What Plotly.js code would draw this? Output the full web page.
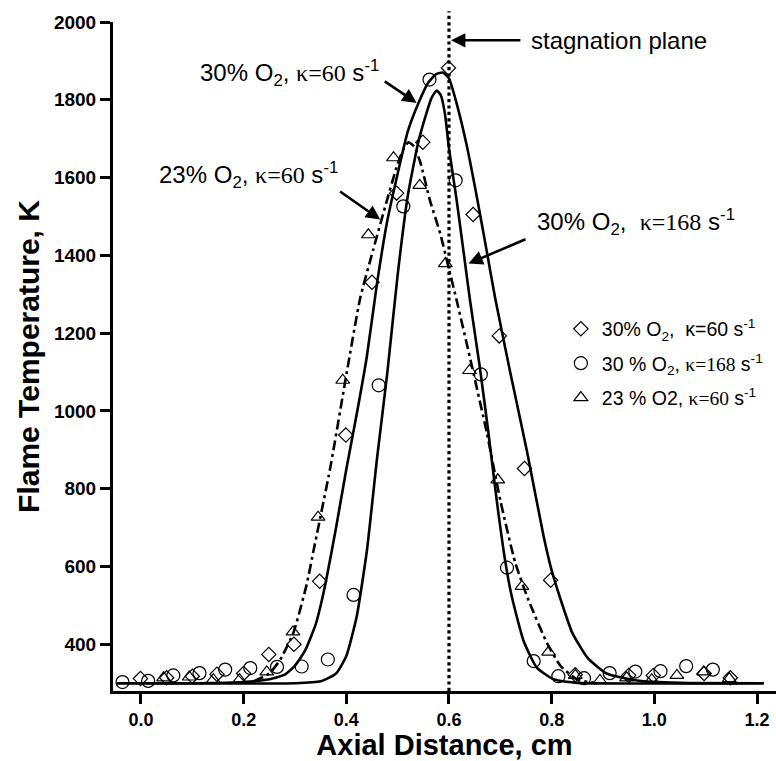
<!DOCTYPE html>
<html>
<head>
<meta charset="utf-8">
<script src="https://cdn.plot.ly/plotly-3.0.1.min.js"></script>
<style>html,body{margin:0;padding:0;background:#fff;}#chart{width:776px;height:761px;}</style>
</head>
<body>
<div id="chart"></div>
<script>
// ---- measured data (axial distance in cm, temperature in K) ----
const diamondX = [-0.001, 0.05, 0.10, 0.148, 0.20, 0.249, 0.298, 0.348, 0.399, 0.45, 0.498, 0.549, 0.599, 0.647, 0.698, 0.747, 0.798, 0.846, 0.95, 0.998, 1.097, 1.148];
const diamondY = [312, 314, 318, 323, 325, 374, 400, 562, 938, 1331, 1560, 1691, 1882, 1505, 1193, 852, 565, 322, 320, 320, 325, 314];

const circleX = [-0.036, 0.014, 0.063, 0.114, 0.164, 0.213, 0.265, 0.313, 0.364, 0.414, 0.463, 0.511, 0.562, 0.613, 0.662, 0.713, 0.765, 0.813, 0.863, 0.913, 0.963, 1.012, 1.062, 1.114];
const circleY = [303, 306, 320, 326, 335, 339, 342, 343, 361, 527, 1066, 1526, 1852, 1593, 1094, 597, 357, 318, 313, 326, 330, 331, 344, 335];

const triangleX = [0.044, 0.094, 0.141, 0.192, 0.245, 0.296, 0.345, 0.393, 0.443, 0.492, 0.543, 0.593, 0.64, 0.695, 0.742, 0.794, 0.846, 0.894, 0.946, 0.995, 1.044, 1.096, 1.146];
const triangleY = [314, 316, 309, 309, 329, 432, 727, 1079, 1453, 1651, 1580, 1379, 1104, 823, 549, 380, 320, 307, 314, 309, 320, 329, 312];

// model curves
const curve60X = [-0.047, 0.10, 0.20, 0.25, 0.28, 0.30, 0.32, 0.34, 0.35, 0.36, 0.38, 0.40, 0.42, 0.44, 0.46, 0.48, 0.50, 0.52, 0.54, 0.56, 0.575, 0.588, 0.60, 0.615, 0.635, 0.655, 0.675, 0.69, 0.72, 0.752, 0.784, 0.80, 0.82, 0.84, 0.87, 0.907, 0.966, 1.05, 1.213];
const curve60Y = [300, 300, 303, 310, 322, 345, 385, 450, 500, 560, 700, 850, 990, 1140, 1330, 1490, 1610, 1720, 1790, 1845, 1866, 1870, 1855, 1790, 1680, 1545, 1400, 1290, 1095, 896, 680, 590, 505, 430, 365, 325, 307, 301, 300];

const curve168X = [-0.047, 0.30, 0.35, 0.38, 0.40, 0.42, 0.44, 0.46, 0.48, 0.50, 0.52, 0.54, 0.556, 0.566, 0.576, 0.584, 0.592, 0.60, 0.615, 0.628, 0.641, 0.66, 0.677, 0.693, 0.71, 0.722, 0.745, 0.771, 0.804, 0.85, 1.213];
const curve168Y = [300, 300, 305, 325, 370, 470, 640, 880, 1100, 1350, 1555, 1690, 1765, 1805, 1824, 1812, 1765, 1675, 1541, 1413, 1284, 1113, 942, 770, 610, 525, 410, 340, 310, 301, 300];

const curve23X = [0.22, 0.25, 0.271, 0.297, 0.323, 0.336, 0.369, 0.401, 0.427, 0.452, 0.479, 0.498, 0.51, 0.521, 0.532, 0.544, 0.563, 0.583, 0.599, 0.615, 0.645, 0.674, 0.70, 0.729, 0.755, 0.791, 0.817, 0.849, 0.888];
const curve23Y = [305, 325, 360, 430, 555, 640, 856, 1100, 1290, 1413, 1541, 1627, 1670, 1691, 1680, 1640, 1541, 1456, 1370, 1284, 1113, 942, 770, 610, 513, 403, 345, 310, 300];

const stagnationX = 0.6;
const xTicks = [0.0, 0.2, 0.4, 0.6, 0.8, 1.0, 1.2];
const yTicks = [400, 600, 800, 1000, 1200, 1400, 1600, 1800, 2000];

// ---- presentation ----
const SANS = 'Liberation Sans, Arial, sans-serif';
const SERIF = 'Liberation Serif, Times New Roman, serif';
const k = v => '<span style="font-family:' + SERIF + '">κ=' + v + '</span>';

const lineStyle = {color: '#000', width: 2.6, shape: 'spline', smoothing: 0.5};
const traces = [
  {x: curve60X, y: curve60Y, mode: 'lines', line: lineStyle, showlegend: false, hoverinfo: 'skip'},
  {x: curve168X, y: curve168Y, mode: 'lines', line: lineStyle, showlegend: false, hoverinfo: 'skip'},
  {x: curve23X, y: curve23Y, mode: 'lines', line: Object.assign({}, lineStyle, {dash: '10px,4px,3px,4px'}), showlegend: false, hoverinfo: 'skip'},
  {x: diamondX, y: diamondY, mode: 'markers', legendgroup: 'a', name: '30% O<sub>2</sub>,  κ=60 s<sup>-1</sup>',
   marker: {symbol: 'diamond-open', size: 11, color: '#000', line: {width: 1.2, color: '#000'}}},
  {x: circleX, y: circleY, mode: 'markers', legendgroup: 'b', name: '30 % O<sub>2</sub>, ' + k('168') + ' s<sup>-1</sup>',
   marker: {symbol: 'circle-open', size: 13, color: '#000', line: {width: 1.2, color: '#000'}}},
  {x: triangleX, y: triangleY, mode: 'markers', legendgroup: 'c', name: '23 % O2, ' + k('60') + ' s<sup>-1</sup>',
   marker: {symbol: 'triangle-up-open', size: 12, color: '#000', line: {width: 1.2, color: '#000'}}}
];

const annFont = {family: SANS, size: 24, color: '#000'};
const arrow = (x, y, ax, ay) => ({x: x, y: y, ax: ax, ay: ay, xref: 'x', yref: 'y', axref: 'x', ayref: 'y',
  text: '', showarrow: true, arrowhead: 2, arrowsize: 1.1, arrowwidth: 2.6, arrowcolor: '#000'});
const label = (x, y, text) => ({x: x, y: y, xref: 'x', yref: 'y', text: text, showarrow: false,
  xanchor: 'left', yanchor: 'middle', font: annFont});

const layout = {
  width: 776, height: 761,
  margin: {l: 113, r: 0, t: 22, b: 70},
  paper_bgcolor: '#fff', plot_bgcolor: '#fff',
  font: {family: SANS, color: '#000'},
  xaxis: {
    range: [-0.0545, 1.237], tickvals: xTicks, tickformat: '.1f',
    showline: true, linewidth: 3, linecolor: '#000', ticks: 'outside', ticklen: 10, tickwidth: 3, tickcolor: '#000',
    showgrid: false, zeroline: false,
    tickfont: {family: SANS, size: 18, color: '#000', weight: 'bold'},
    title: {text: '<b>Axial Distance, cm</b>', font: {family: SANS, size: 29, color: '#000'}, standoff: 6}
  },
  yaxis: {
    range: [280, 2000], tickvals: yTicks,
    showline: true, linewidth: 3, linecolor: '#000', ticks: 'outside', ticklen: 10, tickwidth: 3, tickcolor: '#000',
    showgrid: false, zeroline: false,
    tickfont: {family: SANS, size: 19, color: '#000', weight: 'bold'},
    title: {text: '<b>Flame Temperature, K</b>', font: {family: SANS, size: 30, color: '#000'}, standoff: 6}
  },
  legend: {x: 0.674, y: 0.57, xanchor: 'left', yanchor: 'top', bgcolor: 'rgba(0,0,0,0)',
    font: {family: SANS, size: 19.5, color: '#000'}, tracegroupgap: 6, itemwidth: 32},
  showlegend: true,
  shapes: [
    {type: 'line', xref: 'x', yref: 'paper', x0: stagnationX, x1: stagnationX, y0: 0, y1: 1.016,
     line: {color: '#000', width: 3.2, dash: 'dot'}}
  ],
  annotations: [
    label(0.755, 1953, 'stagnation plane'),
    arrow(0.604, 1953, 0.742, 1953),
    label(0.112, 1870, '30% O<sub>2</sub>, ' + k('60') + ' s<sup>-1</sup>'),
    arrow(0.537, 1792, 0.472, 1850),
    label(0.032, 1606, '23% O<sub>2</sub>, ' + k('60') + ' s<sup>-1</sup>'),
    arrow(0.466, 1492, 0.385, 1567),
    label(0.768, 1485, '30% O<sub>2</sub>,  ' + k('168') + ' s<sup>-1</sup>'),
    arrow(0.638, 1379, 0.752, 1443)
  ]
};

Plotly.newPlot('chart', traces, layout, {displayModeBar: false, staticPlot: true});
</script>
</body>
</html>
